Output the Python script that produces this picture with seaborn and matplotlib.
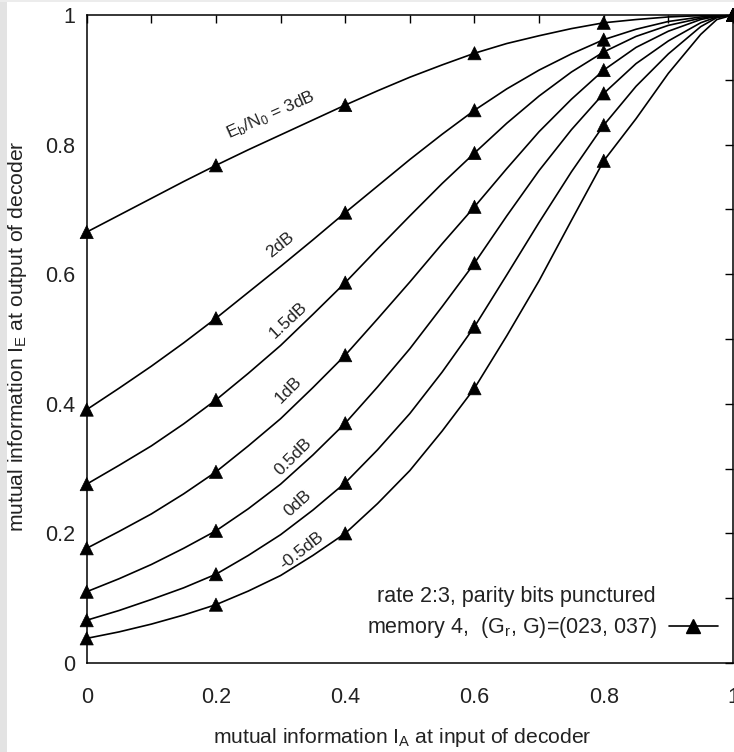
import numpy as np
import pandas as pd
import matplotlib
matplotlib.use("Agg")
import matplotlib.pyplot as plt
from matplotlib.lines import Line2D
from matplotlib.patches import Rectangle
import seaborn as sns

# ---------------- data ----------------
ia_grid = [0.0, 0.05, 0.1, 0.15, 0.2, 0.25, 0.3, 0.35, 0.4, 0.45, 0.5, 0.55,
           0.6, 0.65, 0.7, 0.75, 0.8, 0.85, 0.9, 0.95, 0.975, 1.0]
marker_ia = [0.0, 0.2, 0.4, 0.6, 0.8, 1.0]

snr_labels = ["3dB", "2dB", "1.5dB", "1dB", "0.5dB", "0dB", "-0.5dB"]

ie_3db    = [0.665, 0.691, 0.717, 0.743, 0.768, 0.792, 0.815, 0.838, 0.861, 0.883, 0.904,
             0.923, 0.941, 0.956, 0.968, 0.979, 0.988, 0.993, 0.997, 0.999, 1.000, 1.0]
ie_2db    = [0.391, 0.424, 0.458, 0.494, 0.532, 0.572, 0.612, 0.653, 0.695, 0.736, 0.777,
             0.816, 0.853, 0.886, 0.915, 0.940, 0.962, 0.978, 0.990, 0.997, 0.999, 1.0]
ie_1p5db  = [0.276, 0.305, 0.335, 0.369, 0.406, 0.447, 0.490, 0.538, 0.587, 0.639, 0.690,
             0.740, 0.787, 0.833, 0.875, 0.912, 0.943, 0.967, 0.984, 0.995, 0.998, 1.0]
ie_1db    = [0.177, 0.203, 0.230, 0.261, 0.295, 0.335, 0.377, 0.425, 0.475, 0.531, 0.588,
             0.647, 0.704, 0.763, 0.820, 0.870, 0.915, 0.950, 0.975, 0.993, 0.998, 1.0]
ie_0p5db  = [0.110, 0.130, 0.152, 0.177, 0.204, 0.238, 0.276, 0.321, 0.370, 0.426, 0.485,
             0.550, 0.617, 0.690, 0.760, 0.823, 0.879, 0.925, 0.960, 0.988, 0.997, 1.0]
ie_0db    = [0.066, 0.081, 0.098, 0.116, 0.137, 0.166, 0.198, 0.236, 0.278, 0.329, 0.385,
             0.449, 0.519, 0.599, 0.680, 0.758, 0.830, 0.890, 0.940, 0.982, 0.996, 1.0]
ie_m0p5db = [0.038, 0.048, 0.060, 0.074, 0.090, 0.111, 0.135, 0.166, 0.200, 0.246, 0.297,
             0.358, 0.424, 0.505, 0.590, 0.683, 0.775, 0.840, 0.910, 0.970, 0.993, 1.0]

curve_values = [ie_3db, ie_2db, ie_1p5db, ie_1db, ie_0p5db, ie_0db, ie_m0p5db]

curve_text = [r"E$_\mathregular{b}$/N$_\mathregular{0}$ = 3dB", "2dB", "1.5dB", "1dB",
              "0.5dB", "0dB", "-0.5dB"]
text_x = [0.285, 0.299, 0.312, 0.312, 0.319, 0.327, 0.333]
text_y = [0.846, 0.645, 0.529, 0.421, 0.318, 0.247, 0.174]
text_rot = [24, 39, 43, 45, 45, 42, 38]

x_ticks = [0, 0.2, 0.4, 0.6, 0.8, 1]
x_tick_labels = ["0", "0.2", "0.4", "0.6", "0.8", "1"]
y_ticks = [0, 0.2, 0.4, 0.6, 0.8, 1]
y_tick_labels = ["0", "0.2", "0.4", "0.6", "0.8", "1"]

# ---------------- tables ----------------
rows = []
for lab, vals in zip(snr_labels, curve_values):
    for x, v in zip(ia_grid, vals):
        rows.append({"IA": x, "IE": v, "snr": lab})
df = pd.DataFrame(rows)
df_mark = df[df["IA"].round(3).isin([round(m, 3) for m in marker_ia])]

# ---------------- style ----------------
sns.set_theme(style="white")
plt.rcParams["font.family"] = ["Liberation Sans", "DejaVu Sans"]
plt.rcParams["mathtext.fontset"] = "custom"
plt.rcParams["mathtext.rm"] = "Liberation Sans"
plt.rcParams["mathtext.it"] = "Liberation Sans:italic"

fig = plt.figure(figsize=(7.34, 7.52), dpi=100)
ax = fig.add_axes([86.7 / 734, 89 / 752, 646.3 / 734, 648 / 752])

# gray border strips like the scanned reference
fig.patches.append(Rectangle((0, 0), 7 / 734, 1, transform=fig.transFigure,
                             facecolor="#e3e3e3", edgecolor="none", zorder=-5))
fig.patches.append(Rectangle((0, 1 - 2 / 752), 1, 2 / 752, transform=fig.transFigure,
                             facecolor="#ececec", edgecolor="none", zorder=-5))

pal = {k: "black" for k in snr_labels}
sns.lineplot(data=df, x="IA", y="IE", hue="snr", palette=pal, sort=False,
             linewidth=1.2, legend=False, ax=ax)
sns.scatterplot(data=df_mark, x="IA", y="IE", hue="snr", palette=pal, marker="^",
                s=90, edgecolor="black", linewidth=0.5, legend=False, ax=ax,
                clip_on=False, zorder=5)

for t, x, y, r in zip(curve_text, text_x, text_y, text_rot):
    ax.text(x, y, t, rotation=r, ha="center", va="center", fontsize=12.5,
            color="#222222", rotation_mode="anchor")

ax.set_xlim(0, 1)
ax.set_ylim(0, 1)
ax.set_xticks(x_ticks)
ax.set_xticklabels(x_tick_labels)
ax.set_yticks(y_ticks)
ax.set_yticklabels(y_tick_labels)
ax.set_xticks(np.arange(0.1, 1.0, 0.2), minor=True)
ax.set_yticks(np.arange(0.1, 1.0, 0.2), minor=True)
ax.tick_params(which="both", direction="in", top=True, right=True, length=6,
               width=1.0, color="black")
ax.tick_params(axis="x", which="major", pad=17, labelsize=15.5, labelcolor="#222222")
ax.tick_params(axis="y", which="major", pad=8, labelsize=15.5, labelcolor="#222222")
for sp in ax.spines.values():
    sp.set_color("black")
    sp.set_linewidth(1.1)

ax.set_xlabel(r"mutual information I$_\mathregular{A}$ at input of decoder",
              fontsize=15.2, color="#222222")
ax.set_ylabel(r"mutual information I$_\mathregular{E}$ at output of decoder",
              fontsize=15.2, color="#222222")
ax.xaxis.set_label_coords(0.488, -0.097)
ax.yaxis.set_label_coords(-0.089, 0.505)

ax.text(0.881, 0.102, "rate 2:3, parity bits punctured", transform=ax.transAxes,
        ha="right", va="center", fontsize=15.5, color="#222222")

handle = Line2D([], [], color="black", linewidth=1.2, marker="^", markersize=9.5)
leg = ax.legend([handle], [r"memory 4,  (G$_\mathregular{r}$, G)=(023, 037)"],
                loc="lower right", bbox_to_anchor=(0.977, 0.035), frameon=False,
                markerfirst=False, fontsize=15.5, handlelength=2.3,
                handletextpad=0.55, borderpad=0, borderaxespad=0)
for txt in leg.get_texts():
    txt.set_color("#222222")

fig.savefig("out.png", dpi=100)
